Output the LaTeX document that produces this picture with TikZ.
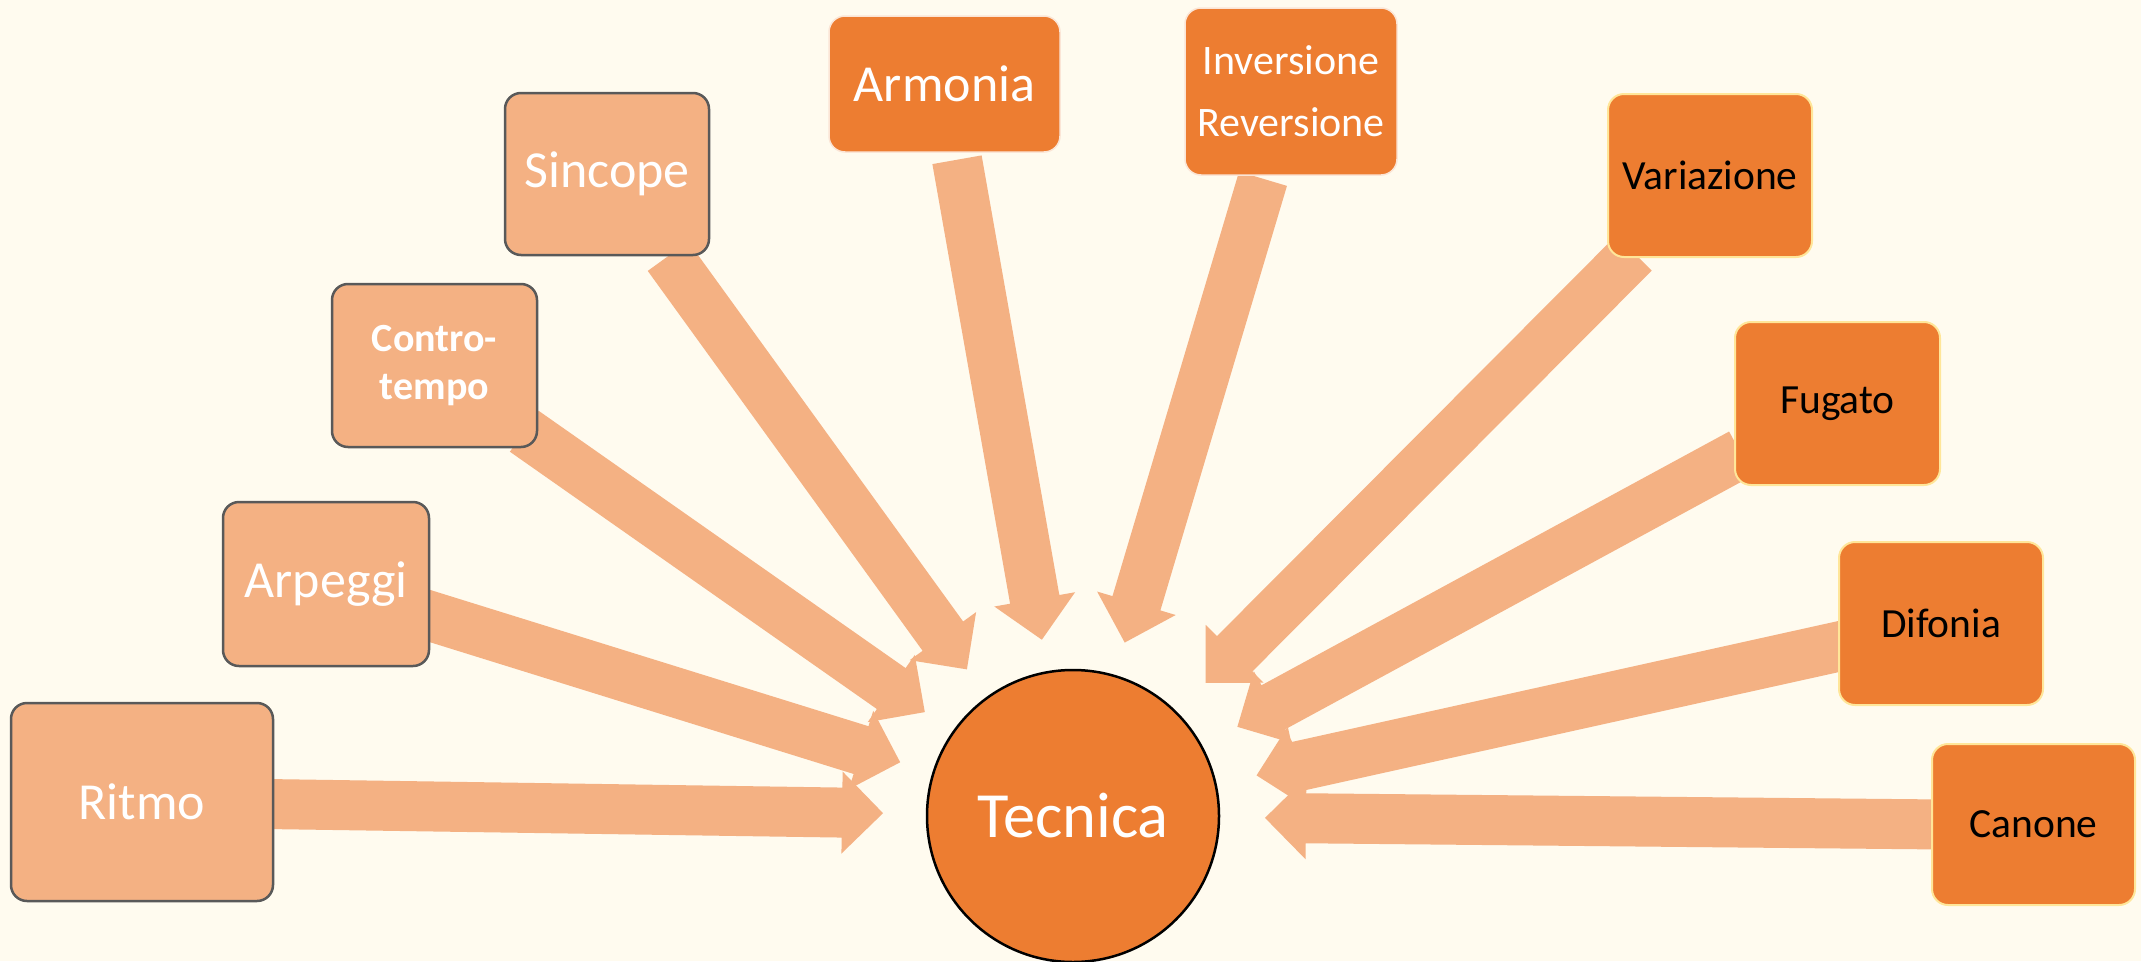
\documentclass[tikz,border=0pt]{standalone}
\usepackage{fontspec}
\setmainfont{Carlito}
\usetikzlibrary{calc}
\definecolor{bgc}{HTML}{FFFBEF}
\definecolor{lightor}{HTML}{F4B183}
\definecolor{darkor}{HTML}{ED7D31}
\definecolor{greyb}{HTML}{595959}
\definecolor{yelb}{HTML}{FFE699}
\definecolor{paleb}{HTML}{FBE5D6}
\pgfdeclarelayer{bg}
\pgfsetlayers{bg,main}
\tikzset{
  lbox/.style={draw=greyb, line width=2.5pt, fill=lightor, rounded corners=16pt, text=white, align=center, inner sep=0pt},
  rbox/.style={draw=yelb, line width=2pt, fill=darkor, rounded corners=16pt, text=black, align=center, inner sep=0pt},
  wbox/.style={draw=paleb, line width=1.5pt, fill=darkor, rounded corners=16pt, text=white, align=center, inner sep=0pt},
  arrowfill/.style={fill=lightor},
  big/.style={font=\fontsize{52}{60}\selectfont},
  mid/.style={font=\fontsize{41.5}{48}\selectfont},
}
\newcommand\blockarrow[2]{%
  \coordinate (#1-tip) at ($(tec.center)!#2!(#1)$);
  \coordinate (#1-base) at ($(#1-tip)!41pt!(#1)$);
  \fill[arrowfill] ($(#1)!25pt!90:(#1-tip)$) -- ($(#1-base)!25pt!90:(#1-tip)$) -- ($(#1-base)!41pt!90:(#1-tip)$) -- (#1-tip) -- ($(#1-base)!41pt!-90:(#1-tip)$) -- ($(#1-base)!25pt!-90:(#1-tip)$) -- ($(#1)!25pt!-90:(#1-tip)$) -- cycle;
}
\begin{document}
\begin{tikzpicture}[x=1pt,y=-1pt]
\useasboundingbox (0,0) rectangle (2141,961);
\begin{pgfonlayer}{bg}
\fill[bgc] (0,0) rectangle (2141,961);
\end{pgfonlayer}
% centre
\node[circle, draw=black, line width=2.5pt, fill=darkor, minimum size=292pt, inner sep=0pt, text=white, font=\fontsize{64.5}{70}\selectfont] (tec) at (1073,816) {Tecnica};
% left boxes
\node[lbox, big, minimum width=262pt, minimum height=198pt] (ritmo) at (142,802) {Ritmo};
\node[lbox, big, minimum width=206pt, minimum height=164pt] (arpeggi) at (326,584) {Arpeggi};
\node[lbox, font=\fontsize{40}{48}\selectfont\bfseries, minimum width=205pt, minimum height=163pt] (contro) at (434.5,365.5) {Contro-\\tempo};
\node[lbox, big, minimum width=204pt, minimum height=162pt] (sincope) at (607,174) {Sincope};
% top boxes
\node[wbox, big, minimum width=231pt, minimum height=136pt] (armonia) at (944.5,84) {Armonia};
\node[wbox, font=\fontsize{42}{62}\selectfont, minimum width=212pt, minimum height=167pt] (invers) at (1291,91.5) {Inversione\\Reversione};
% right boxes
\node[rbox, mid, minimum width=204pt, minimum height=163pt] (variaz) at (1710,175.5) {Variazione};
\node[rbox, mid, minimum width=205pt, minimum height=163pt] (fugato) at (1837.5,403.5) {Fugato};
\node[rbox, mid, minimum width=204pt, minimum height=163pt] (difonia) at (1941,623.5) {Difonia};
\node[rbox, mid, minimum width=203pt, minimum height=161pt] (canone) at (2033.5,824.5) {Canone};
% arrow tails
\coordinate (t-ritmo) at ($(ritmo.east)+(-8,2)$);
\coordinate (t-arpeggi) at ($(arpeggi.east)+(-10,29)$);
\coordinate (t-contro) at ($(contro.south east)+(-14,-17)$);
\coordinate (t-sincope) at ($(sincope.south)+(61,0)$);
\coordinate (t-armonia) at ($(armonia.south)+(12.5,7)$);
\coordinate (t-invers) at ($(invers.south)+(-28,3)$);
\coordinate (t-variaz) at ($(variaz.south west)+(27,-5)$);
\coordinate (t-fugato) at ($(fugato.west)+(7,50)$);
\coordinate (t-difonia) at ($(difonia.west)+(12,20.5)$);
\coordinate (t-canone) at ($(canone.west)+(13,0)$);
\begin{pgfonlayer}{bg}
\blockarrow{t-ritmo}{190pt}
\blockarrow{t-arpeggi}{181pt}
\blockarrow{t-contro}{181pt}
\blockarrow{t-sincope}{181pt}
\blockarrow{t-armonia}{179pt}
\blockarrow{t-invers}{181pt}
\blockarrow{t-variaz}{188pt}
\blockarrow{t-fugato}{187pt}
\blockarrow{t-difonia}{188pt}
\blockarrow{t-canone}{192pt}
\end{pgfonlayer}
\end{tikzpicture}
\end{document}
